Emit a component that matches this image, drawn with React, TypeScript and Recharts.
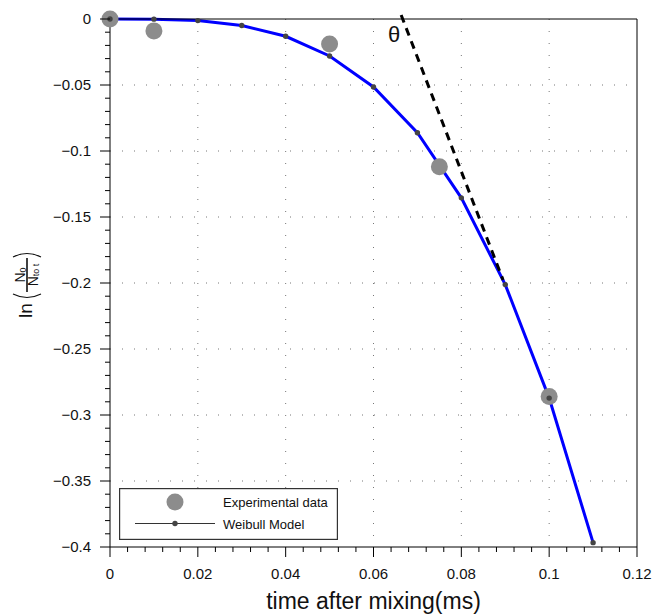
import {
  ComposedChart,
  Line,
  Scatter,
  XAxis,
  YAxis,
  CartesianGrid,
  ReferenceLine,
  ReferenceDot,
  Legend
} from "recharts";

// experimental points
const expTime = [0, 0.01, 0.05, 0.075, 0.1];
const expValue = [0, -0.009, -0.019, -0.112, -0.286];

// Weibull model evaluated every 0.01 ms
const modelTime = [0, 0.01, 0.02, 0.03, 0.04, 0.05, 0.06, 0.07, 0.08, 0.09, 0.1, 0.11];
const modelValue = [0, -0.0001, -0.0012, -0.0049, -0.0131, -0.028, -0.0515, -0.0862, -0.1355, -0.2012, -0.2872, -0.3967];

// tangent drawn by hand, and its angle label
const tangentTime = [0.0663, 0.0895];
const tangentValue = [0.003, -0.1977];
const thetaAt = { t: 0.0647, v: -0.0117 };

const xMajor = [0, 0.02, 0.04, 0.06, 0.08, 0.1, 0.12];
const yMajor = [0, -0.05, -0.1, -0.15, -0.2, -0.25, -0.3, -0.35, -0.4];
const xMinorStep = 0.004;
const yMinorStep = 0.01;

const expData = expTime.map((t, i) => ({ t, v: expValue[i] }));
const modelData = modelTime.map((t, i) => ({ t, v: modelValue[i] }));

function minorTicks(majors: number[], step: number) {
  const lo = Math.min(...majors);
  const hi = Math.max(...majors);
  const n = Math.round((hi - lo) / step);
  return Array.from({ length: n + 1 }, (_, i) => +(lo + i * step).toFixed(4));
}
const xTicks = minorTicks(xMajor, xMinorStep);
const yTicks = minorTicks(yMajor, yMinorStep);

const isMajor = (v: number, majors: number[]) => majors.some((m) => Math.abs(m - v) < 1e-7);
const fmt = (v: number) => (v < 0 ? "\u2212" + String(Math.abs(v)) : String(v));

const FONT = "'Liberation Sans', Arial, sans-serif";

function makeTick(side: "bottom" | "top" | "left" | "right", majors: number[]) {
  return (props: any) => {
    const { x, y, payload } = props;
    const v = payload.value;
    const major = isMajor(v, majors);
    const len = major ? 10 : 5;
    if (side === "bottom") {
      return (
        <g>
          <line x1={x} x2={x} y1={y} y2={y + len} stroke="#000" />
          {major && (
            <text x={x} y={y + 32} textAnchor="middle" fontSize={15} fontFamily={FONT} fill="#111">
              {fmt(v)}
            </text>
          )}
        </g>
      );
    }
    if (side === "top") return <line x1={x} x2={x} y1={y} y2={y - len} stroke="#000" />;
    if (side === "right") return <line x1={x} x2={x + len} y1={y} y2={y} stroke="#000" />;
    return (
      <g>
        <line x1={x - len} x2={x} y1={y} y2={y} stroke="#000" />
        {major && (
          <text x={x - 19} y={y + 5} textAnchor="end" fontSize={15} fontFamily={FONT} fill="#111">
            {fmt(v)}
          </text>
        )}
      </g>
    );
  };
}

function XLabel(props: any) {
  const { x, y, width } = props.viewBox;
  return (
    <text x={x + width / 2} y={y + 62} textAnchor="middle" fontSize={23} fontFamily={FONT} fill="#111">
      time after mixing(ms)
    </text>
  );
}

function YLabel(props: any) {
  const { x, y, width, height } = props.viewBox;
  const cx = x + width - 83;
  const cy = y + height / 2 + 1;
  return (
    <g transform={`translate(${cx},${cy}) rotate(-90)`} fontFamily={FONT} fill="#111">
      <text x={-34} y={5} fontSize={19}>ln</text>
      <path d="M -10 -14 Q -17 0 -10 14" stroke="#111" strokeWidth={1.1} fill="none" />
      <text x={9} y={-2} textAnchor="middle" fontSize={14}>
        N<tspan fontSize={9} dy={1}>0</tspan>
      </text>
      <line x1={-8} x2={26} y1={0} y2={0} stroke="#111" strokeWidth={1.6} />
      <text x={9} y={11} textAnchor="middle" fontSize={14}>
        N<tspan fontSize={9} dy={1}>to t</tspan>
      </text>
      <path d="M 27 -14 Q 34 0 27 14" stroke="#111" strokeWidth={1.1} fill="none" />
    </g>
  );
}

function LegendBox() {
  return (
    <svg width={219} height={52} style={{ display: "block" }}>
      <rect x={0.6} y={0.6} width={217.8} height={50.8} fill="#fff" stroke="#333" strokeWidth={1.2} />
      <circle cx={56} cy={14} r={8.5} fill="#8c8c8c" />
      <text x={104} y={19} fontSize={13} fontFamily={FONT} fill="#111">Experimental data</text>
      <line x1={16} x2={96} y1={35.5} y2={35.5} stroke="#333" strokeWidth={1} />
      <circle cx={56} cy={35.5} r={2.7} fill="#444" />
      <text x={104} y={41} fontSize={13} fontFamily={FONT} fill="#111">Weibull Model</text>
    </svg>
  );
}

export default function App() {
  return (
    <div style={{ position: "absolute", left: 0, top: 0, width: 654, height: 614, background: "#fff" }}>
      <ComposedChart
        width={654}
        height={614}
        margin={{ top: 18, right: 16, bottom: 66, left: 109 }}
      >
        <CartesianGrid
          horizontalValues={yMajor.slice(1, -1)}
          verticalValues={xMajor.slice(1, -1)}
          stroke="#777"
          strokeDasharray="1 11"
        />
        <XAxis
          dataKey="t"
          type="number"
          domain={[0, 0.12]}
          ticks={xTicks}
          interval={0}
          height={1}
          tickSize={0}
          tickMargin={0}
          tickLine={false}
          axisLine={{ stroke: "#000" }}
          tick={makeTick("bottom", xMajor)}
          label={<XLabel />}
        />
        <XAxis
          xAxisId="top"
          orientation="top"
          dataKey="t"
          type="number"
          domain={[0, 0.12]}
          ticks={xTicks}
          interval={0}
          height={1}
          tickSize={0}
          tickMargin={0}
          tickLine={false}
          axisLine={{ stroke: "#000" }}
          tick={makeTick("top", xMajor)}
        />
        <YAxis
          dataKey="v"
          type="number"
          domain={[-0.4, 0]}
          ticks={yTicks}
          interval={0}
          width={1}
          tickSize={0}
          tickMargin={0}
          tickLine={false}
          axisLine={{ stroke: "#000" }}
          tick={makeTick("left", yMajor)}
          label={<YLabel />}
        />
        <YAxis
          yAxisId="right"
          orientation="right"
          dataKey="v"
          type="number"
          domain={[-0.4, 0]}
          ticks={yTicks}
          interval={0}
          width={1}
          tickSize={0}
          tickMargin={0}
          tickLine={false}
          axisLine={{ stroke: "#000" }}
          tick={makeTick("right", yMajor)}
        />
        <Scatter
          data={expData}
          dataKey="v"
          fill="#8c8c8c"
          shape={(p: any) => <circle cx={p.cx} cy={p.cy} r={8.5} fill="#8c8c8c" />}
          isAnimationActive={false}
        />
        <Line
          data={modelData}
          dataKey="v"
          type="linear"
          stroke="#0000ff"
          strokeWidth={3}
          dot={{ r: 2.7, fill: "#444", stroke: "none" }}
          activeDot={false}
          isAnimationActive={false}
        />
        <ReferenceLine
          segment={[
            { x: tangentTime[0], y: tangentValue[0] },
            { x: tangentTime[1], y: tangentValue[1] }
          ]}
          stroke="#000"
          strokeWidth={3}
          strokeDasharray="8 6"
          ifOverflow="visible"
        />
        <ReferenceDot
          x={thetaAt.t}
          y={thetaAt.v}
          r={0}
          fill="none"
          stroke="none"
          ifOverflow="visible"
          label={{ value: "θ", position: "center", fontSize: 22, fontFamily: FONT, fill: "#111" }}
        />
        <Legend
          layout="vertical"
          align="center"
          verticalAlign="middle"
          wrapperStyle={{ left: 119, top: 488, width: 219, height: 52 }}
          content={() => <LegendBox />}
        />
      </ComposedChart>
    </div>
  );
}
